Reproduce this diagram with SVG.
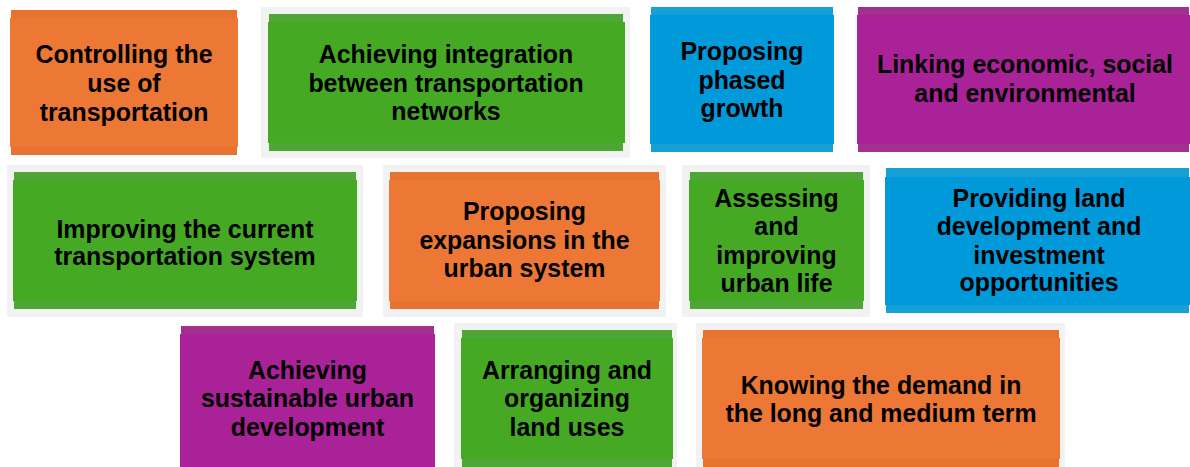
<svg xmlns="http://www.w3.org/2000/svg" width="1190" height="467" viewBox="0 0 1190 467">
<style>
.bg{fill:#F2F2F2}
.t{font-family:"Liberation Sans",Arial,sans-serif;font-weight:bold;font-size:24.9px;fill:#000;text-anchor:middle}
.o .b{fill:#E8722F}.o .m{fill:#ED7734}
.g .b{fill:#4DA636}.g .m{fill:#45A924}
.u .b{fill:#17A0D6}.u .m{fill:#009ADB}
.p .b{fill:#A2308E}.p .m{fill:#AA2297}
</style>
<rect width="1190" height="467" fill="#FFFFFF"/>
<g id="connectors"/>
<g id="n1" class="o">
<rect class="b" x="11" y="10" width="226" height="145"/>
<rect class="m" x="10" y="18" width="228" height="129"/>
<text class="t" x="124" y="63">Controlling the</text>
<text class="t" x="124" y="92">use of</text>
<text class="t" x="124" y="120.5">transportation</text>
</g>
<g id="n2" class="g">
<rect class="bg" x="261" y="7" width="369" height="151"/>
<rect class="b" x="269" y="14" width="354" height="137"/>
<rect class="m" x="268" y="22" width="357" height="121"/>
<text class="t" x="446" y="63">Achieving integration</text>
<text class="t" x="446" y="92">between transportation</text>
<text class="t" x="446" y="120">networks</text>
</g>
<g id="n3" class="u">
<rect class="b" x="651" y="7" width="182" height="145"/>
<rect class="m" x="650" y="15" width="184" height="129"/>
<text class="t" x="742" y="60">Proposing</text>
<text class="t" x="742" y="88.5">phased</text>
<text class="t" x="742" y="117">growth</text>
</g>
<g id="n4" class="p">
<rect class="b" x="858" y="7" width="331" height="145"/>
<rect class="m" x="857" y="15" width="333" height="129"/>
<text class="t" x="1025" y="73">Linking economic, social</text>
<text class="t" x="1025" y="102">and environmental</text>
</g>
<g id="n5" class="g">
<rect class="bg" x="7" y="165" width="356" height="152"/>
<rect class="b" x="14" y="172" width="342" height="137"/>
<rect class="m" x="13" y="180" width="344" height="121"/>
<text class="t" x="185" y="237.5">Improving the current</text>
<text class="t" x="185" y="264.5">transportation system</text>
</g>
<g id="n6" class="o">
<rect class="bg" x="383" y="165" width="283" height="152"/>
<rect class="b" x="390" y="172" width="269" height="137"/>
<rect class="m" x="389" y="180" width="271" height="121"/>
<text class="t" x="524.5" y="220">Proposing</text>
<text class="t" x="524.5" y="248.5">expansions in the</text>
<text class="t" x="524.5" y="277">urban system</text>
</g>
<g id="n7" class="g">
<rect class="bg" x="682" y="165" width="188" height="152"/>
<rect class="b" x="690" y="172" width="173" height="137"/>
<rect class="m" x="689" y="180" width="175" height="121"/>
<text class="t" x="776.5" y="206.5">Assessing</text>
<text class="t" x="776.5" y="235">and</text>
<text class="t" x="776.5" y="263.5">improving</text>
<text class="t" x="776.5" y="292">urban life</text>
</g>
<g id="n8" class="u">
<rect class="b" x="886" y="168" width="303" height="145"/>
<rect class="m" x="885" y="177" width="305" height="128"/>
<text class="t" x="1039" y="206.5">Providing land</text>
<text class="t" x="1039" y="235">development and</text>
<text class="t" x="1039" y="263.5">investment</text>
<text class="t" x="1039" y="291">opportunities</text>
</g>
<g id="n9" class="p">
<rect class="b" x="181" y="326" width="253" height="141"/>
<rect class="m" x="180" y="334" width="255" height="133"/>
<text class="t" x="307.5" y="378.5">Achieving</text>
<text class="t" x="307.5" y="407">sustainable urban</text>
<text class="t" x="307.5" y="435.5">development</text>
</g>
<g id="n10" class="g">
<rect class="bg" x="454" y="323" width="223" height="144"/>
<rect class="b" x="462" y="330" width="210" height="137"/>
<rect class="m" x="461" y="338" width="212" height="121"/>
<text class="t" x="567" y="378.5">Arranging and</text>
<text class="t" x="567" y="407">organizing</text>
<text class="t" x="567" y="435.5">land uses</text>
</g>
<g id="n11" class="o">
<rect class="bg" x="696" y="323" width="369" height="144"/>
<rect class="b" x="703" y="330" width="356" height="137"/>
<rect class="m" x="702" y="338" width="358" height="121"/>
<text class="t" x="881" y="393.5">Knowing the demand in</text>
<text class="t" x="881" y="421.5">the long and medium term</text>
</g>
</svg>
